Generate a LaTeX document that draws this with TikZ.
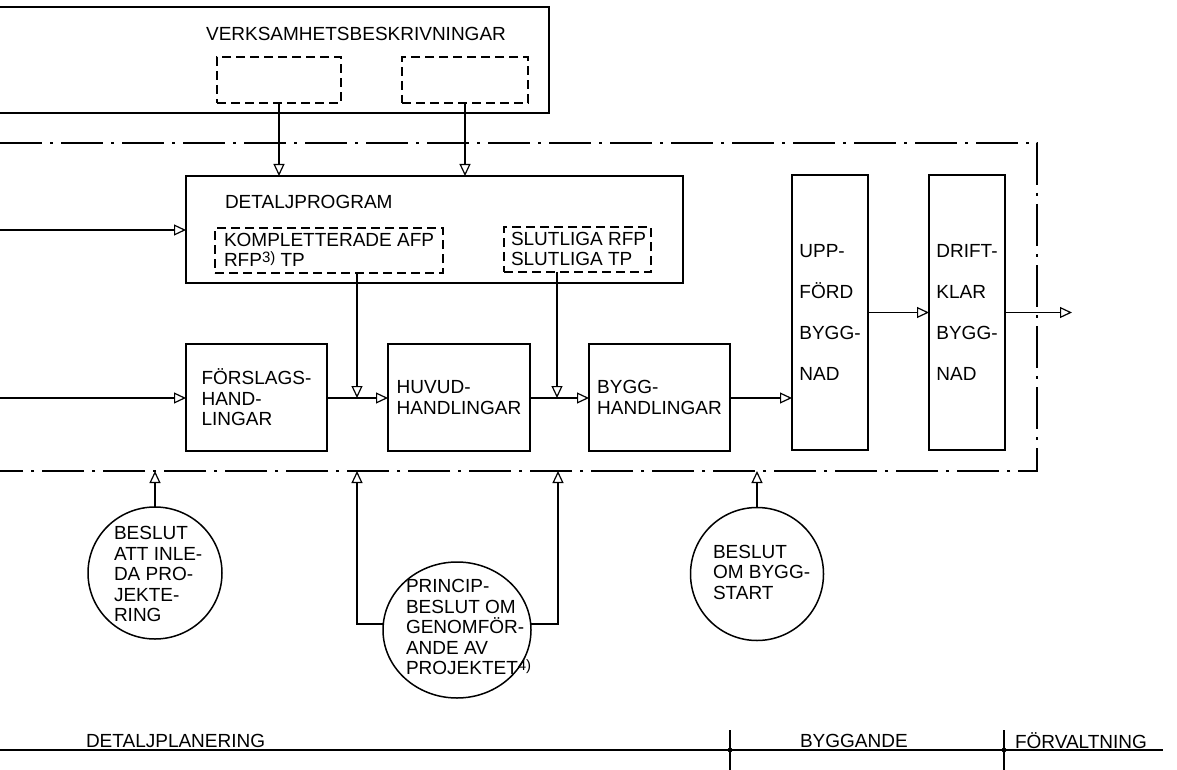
\documentclass[tikz,border=0pt]{standalone}
\usepackage{fontspec}
\setmainfont{Liberation Sans}
\usetikzlibrary{arrows.meta,shapes.geometric}
\newcommand{\supnote}[1]{{\fontsize{15}{15}\selectfont\raisebox{4.5pt}{#1}}}
\begin{document}
\begin{tikzpicture}[x=1pt,y=-1pt,
  lbl/.style={font=\fontsize{19}{20.5}\selectfont, inner sep=0pt, outer sep=0pt},
  box/.style={draw, line width=1.8pt, inner sep=0pt, outer sep=0pt, anchor=north west, lbl, align=left},
  tallbox/.style={box, font=\fontsize{19}{41}\selectfont},
  dbox/.style={draw, line width=1.2pt, dash pattern=on 9pt off 5pt, inner sep=0pt, outer sep=0pt, anchor=north west},
  arr/.style={line width=1.2pt, -{Triangle[open, length=12pt, width=11pt, line width=1.2pt]}},
  frameline/.style={line width=1.2pt, dash pattern=on 42pt off 8pt on 3pt off 8pt},
  circ/.style={draw, ellipse, line width=1.5pt, inner sep=0pt, outer sep=0pt},
  txt/.style={lbl, anchor=west, align=left},
]
\useasboundingbox (0,0) rectangle (1177,770);

% top box (VERKSAMHETSBESKRIVNINGAR)
\coordinate (tb0) at (0,7);
\coordinate (tb1) at (549,7);
\coordinate (tb2) at (549,113);
\coordinate (tb3) at (0,113);
\draw[line width=1.8pt] (tb0) -- (tb1) -- (tb2) -- (tb3);
\node[lbl] (vtitle) at (356,34) {VERKSAMHETSBESKRIVNINGAR};
\node[dbox, minimum width=124pt, minimum height=46pt] (vb1) at (217,57) {};
\node[dbox, minimum width=126pt, minimum height=46pt] (vb2) at (402,57) {};

% dash-dot frame
\coordinate (f0) at (0,143);
\coordinate (f1) at (1037,143);
\coordinate (f2) at (1037,471);
\coordinate (f3) at (0,471);
\draw[frameline] (f0) -- (f1) -- (f2) -- (f3);

% DETALJPROGRAM
\node[box, minimum width=497pt, minimum height=107pt] (detalj) at (186,176) {};
\node[txt] (dtitle) at (225,202) {DETALJPROGRAM};
\node[dbox, minimum width=228pt, minimum height=45pt] (kompl) at (215,228) {};
\node[txt] (ktext) at (224,250) {KOMPLETTERADE AFP\\RFP\supnote{3)} TP};
\node[dbox, minimum width=147pt, minimum height=45pt] (slutl) at (504,227) {};
\node[txt] (stext) at (511,249) {SLUTLIGA RFP\\SLUTLIGA TP};

\draw[arr] (vb1.south) -- (vb1.south |- detalj.north);
\draw[arr] (vb2.south) -- (vb2.south |- detalj.north);

\coordinate (in1) at (0,230);
\draw[arr] (in1) -- (in1 -| detalj.west);

% main row
\node[box, minimum width=141pt, minimum height=107pt] (fors) at (186,344) {FÖRSLAGS-\\HAND-\\LINGAR};
\node[box, minimum width=142pt, minimum height=107pt] (huvud) at (388,344) {HUVUD-\\HANDLINGAR};
\node[box, minimum width=141pt, minimum height=107pt] (bygg) at (589,344) {BYGG-\\HANDLINGAR};
\node[tallbox, minimum width=76pt, minimum height=275pt] (upp) at (792,175) {UPP-\\FÖRD\\BYGG-\\NAD};
\node[tallbox, minimum width=76pt, minimum height=275pt] (drift) at (929,175) {DRIFT-\\KLAR\\BYGG-\\NAD};

\coordinate (in2) at (0,398);
\draw[arr] (in2) -- (in2 -| fors.west);
\draw[arr] (fors.east |- in2) -- (in2 -| huvud.west);
\draw[arr] (huvud.east |- in2) -- (in2 -| bygg.west);
\draw[arr] (bygg.east |- in2) -- (in2 -| upp.west);
\draw[arr] (upp.east) -- (drift.west);
\coordinate (out) at (1072,312.5);
\draw[arr] (drift.east) -- (out);

\coordinate (j1) at (357,398);
\coordinate (j2) at (557,398);
\draw[arr] (kompl.south -| j1) -- (j1);
\draw[arr] (slutl.south -| j2) -- (j2);

% decision circles
\node[circ, minimum width=134pt, minimum height=132pt] (c1) at (155,573) {};
\node[txt] (c1t) at (114,574) {BESLUT\\ATT INLE-\\DA PRO-\\JEKTE-\\RING};
\node[circ, minimum width=148pt, minimum height=136pt] (c2) at (457,630) {};
\node[txt] (c2t) at (406,627) {PRINCIP-\\BESLUT OM\\GENOMFÖR-\\ANDE AV\\PROJEKTET\supnote{4)}};
\node[circ, minimum width=133pt, minimum height=133pt] (c3) at (757,574) {};
\node[txt] (c3t) at (713,572) {BESLUT\\OM BYGG-\\START};

\draw[arr] (c1.north) -- (c1.north |- f3);
\coordinate (k1) at (357,624);
\coordinate (k2) at (558,624);
\draw[arr] (c2.west |- k1) -- (k1) -- (k1 |- f3);
\draw[arr] (c2.east |- k2) -- (k2) -- (k2 |- f3);
\draw[arr] (c3.north) -- (c3.north |- f3);

% time line
\coordinate (t0) at (0,750);
\coordinate (t1) at (1163,750);
\coordinate (ta) at (730,730);
\coordinate (tab) at (730,770);
\coordinate (tb) at (1004,730);
\coordinate (tbb) at (1004,770);
\draw[line width=1.5pt] (t0) -- (t1);
\draw[line width=1.1pt] (ta) -- (tab);
\draw[line width=1.1pt] (tb) -- (tbb);
\fill (ta |- t0) circle (2.4pt);
\fill (tb |- t0) circle (2.4pt);
\node[txt] (p1) at (86,741) {DETALJPLANERING};
\node[txt] (p2) at (800,741) {BYGGANDE};
\node[txt] (p3) at (1015,741) {FÖRVALTNING};
\end{tikzpicture}
\end{document}
